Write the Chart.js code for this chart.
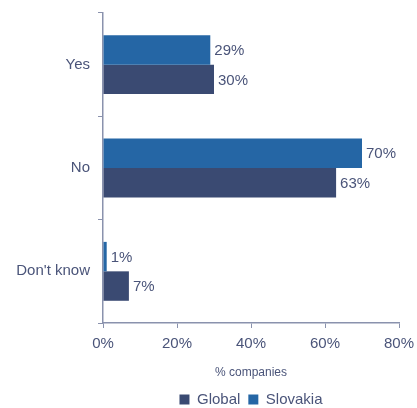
<!DOCTYPE html>
<html>
<head>
<meta charset="utf-8">
<script src="https://cdn.jsdelivr.net/npm/chart.js@4/dist/chart.umd.min.js"></script>
<style>
  html, body { margin: 0; padding: 0; background: #fff; }
  #wrap { width: 417px; height: 408px; }
</style>
</head>
<body>
<div id="wrap"><canvas id="chart"></canvas></div>
<script>
const categories = ['Yes', 'No', "Don't know"];
const slovakia = [29, 70, 1];
const global = [30, 63, 7];
const xTicks = [0, 20, 40, 60, 80];

const textColor = '#4a5479';
const axisColor = '#8a92ad';
const fontFamily = '"Liberation Sans", Arial, sans-serif';

// draws "29%" etc. just past the end of each bar
const valueLabels = {
  id: 'valueLabels',
  afterDatasetsDraw(chart) {
    const ctx = chart.ctx;
    ctx.save();
    ctx.font = '15px ' + fontFamily;
    ctx.fillStyle = textColor;
    ctx.textBaseline = 'middle';
    ctx.textAlign = 'left';
    chart.data.datasets.forEach((ds, i) => {
      chart.getDatasetMeta(i).data.forEach((bar, j) => {
        ctx.fillText(ds.data[j] + '%', bar.x + 4, bar.y + 1);
      });
    });
    ctx.restore();
  }
};

// center the legend under the plot area and push it a bit lower
const legendUnderPlot = {
  id: 'legendUnderPlot',
  afterLayout(chart) {
    const lg = chart.legend;
    if (!lg) return;
    lg.left = chart.chartArea.left;
    lg.right = chart.chartArea.right;
    const shift = chart.height - lg.bottom + 9;
    lg.top += shift;
    lg.bottom += shift;
    lg.adjustHitBoxes && lg.adjustHitBoxes();
  }
};

new Chart(document.getElementById('chart'), {
  type: 'bar',
  data: {
    labels: categories,
    datasets: [
      { label: 'Slovakia', data: slovakia, backgroundColor: '#2566a5' },
      { label: 'Global', data: global, backgroundColor: '#3a4a72' }
    ]
  },
  options: {
    indexAxis: 'y',
    responsive: true,
    maintainAspectRatio: false,
    animation: false,
    categoryPercentage: 0.57,
    barPercentage: 1.0,
    layout: { padding: { top: 13, right: 18, left: 0, bottom: 0 } },
    scales: {
      x: {
        min: 0,
        max: 80,
        afterBuildTicks(axis) { axis.ticks = xTicks.map(v => ({ value: v })); },
        afterFit(axis) {
          axis.paddingLeft = 0;
          axis.paddingRight = 0;
          axis.height = 52;
        },
        ticks: {
          color: textColor,
          font: { family: fontFamily, size: 15 },
          padding: 7,
          callback: v => v + '%'
        },
        grid: { drawOnChartArea: false, drawTicks: true, tickLength: 5, color: axisColor },
        border: { color: axisColor, width: 1.5 },
        title: {
          display: true,
          text: '% companies',
          color: textColor,
          font: { family: fontFamily, size: 12 },
          padding: { top: 12, bottom: -5 }
        }
      },
      y: {
        afterFit(axis) {
          axis.width = 103;
          axis.paddingTop = 0;
          axis.paddingBottom = 0;
        },
        ticks: {
          color: textColor,
          font: { family: fontFamily, size: 15 },
          padding: 8
        },
        grid: { drawOnChartArea: false, drawTicks: true, tickLength: 5, color: axisColor, offset: true },
        border: { color: axisColor, width: 1.5 }
      }
    },
    plugins: {
      legend: {
        position: 'bottom',
        reverse: true,
        labels: {
          color: textColor,
          font: { family: fontFamily, size: 15 },
          boxWidth: 10,
          boxHeight: 10,
          padding: 8
        }
      },
      tooltip: { enabled: false }
    }
  },
  plugins: [valueLabels, legendUnderPlot]
});
</script>
</body>
</html>
